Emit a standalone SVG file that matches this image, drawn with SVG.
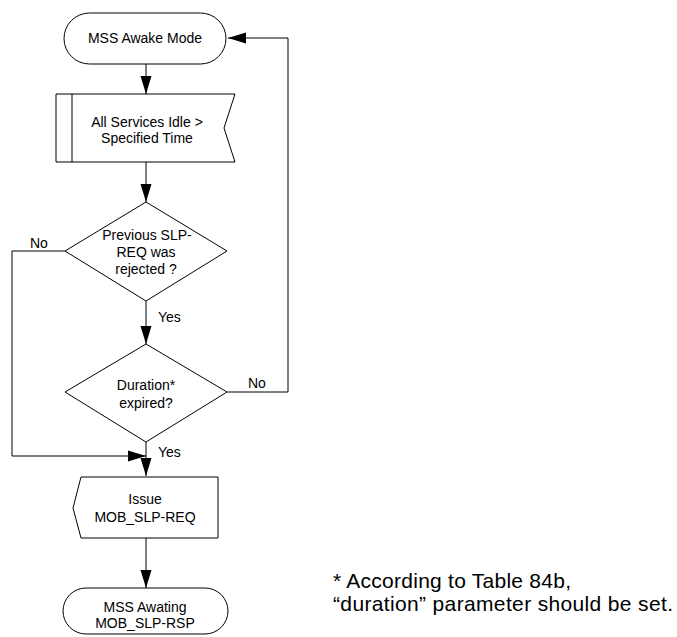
<svg xmlns="http://www.w3.org/2000/svg" width="677" height="637" viewBox="0 0 677 637">
<style>
.s{fill:#fff;stroke:#000;stroke-width:1}
.c{fill:none;stroke:#000;stroke-width:1}
text{font-family:"Liberation Sans",Arial,sans-serif;font-size:14px;fill:#000}
.m{text-anchor:middle}
.f{font-size:21px}
</style>
<defs>
<marker id="ah" markerUnits="userSpaceOnUse" markerWidth="18" markerHeight="12" refX="18" refY="6" orient="auto" viewBox="0 0 18 12">
<path d="M0,0.5 L18,6 L0,11.5 z" fill="#000"/>
</marker>
</defs>
<rect width="677" height="637" fill="#fff"/>
<g id="connectors">
<line class="c" x1="146" y1="64" x2="146" y2="94" marker-end="url(#ah)"/>
<line class="c" x1="146" y1="162" x2="146" y2="202" marker-end="url(#ah)"/>
<line class="c" x1="146" y1="301" x2="146" y2="344" marker-end="url(#ah)"/>
<line class="c" x1="146" y1="442" x2="146" y2="476" marker-end="url(#ah)"/>
<line class="c" x1="146" y1="538" x2="146" y2="588" marker-end="url(#ah)"/>
<polyline class="c" points="227,392 288,392 288,38 228,38" marker-end="url(#ah)"/>
<polyline class="c" points="65,251 12,251 12,456 146,456" marker-end="url(#ah)"/>
<text x="30" y="248">No</text>
<text x="158" y="322">Yes</text>
<text x="248" y="388">No</text>
<text x="158" y="457">Yes</text>
</g>
<g id="awake">
<rect class="s" x="64" y="13" width="162" height="51" rx="25.5"/>
<text class="m" x="145" y="43">MSS Awake Mode</text>
</g>
<g id="idle">
<polygon class="s" points="56,94 235,94 224,128 235,162 56,162"/>
<line class="c" x1="72" y1="94" x2="72" y2="162"/>
<text class="m" x="147" y="127">All Services Idle &gt;</text>
<text class="m" x="147" y="143">Specified Time</text>
</g>
<g id="rejected">
<polygon class="s" points="146,202 227,251 146,301 65,251"/>
<text class="m" x="147" y="240">Previous SLP-</text>
<text class="m" x="146" y="257">REQ was</text>
<text class="m" x="146" y="274">rejected ?</text>
</g>
<g id="duration">
<polygon class="s" points="146,344 227,392 146,442 65,392"/>
<text class="m" x="146" y="390">Duration*</text>
<text class="m" x="146" y="408">expired?</text>
</g>
<g id="issue">
<polygon class="s" points="81,477 218,477 218,538 81,538 73,508"/>
<text class="m" x="145" y="504">Issue</text>
<text class="m" x="145" y="522">MOB_SLP-REQ</text>
</g>
<g id="awaiting">
<rect class="s" x="63" y="588" width="165" height="46" rx="23"/>
<text class="m" x="145" y="612">MSS Awating</text>
<text class="m" x="145" y="628">MOB_SLP-RSP</text>
</g>
<g id="footnote">
<text class="f" x="333" y="588" textLength="238" lengthAdjust="spacing">* According to Table 84b,</text>
<text class="f" x="333" y="611" textLength="340" lengthAdjust="spacing">“duration” parameter should be set.</text>
</g>
</svg>
